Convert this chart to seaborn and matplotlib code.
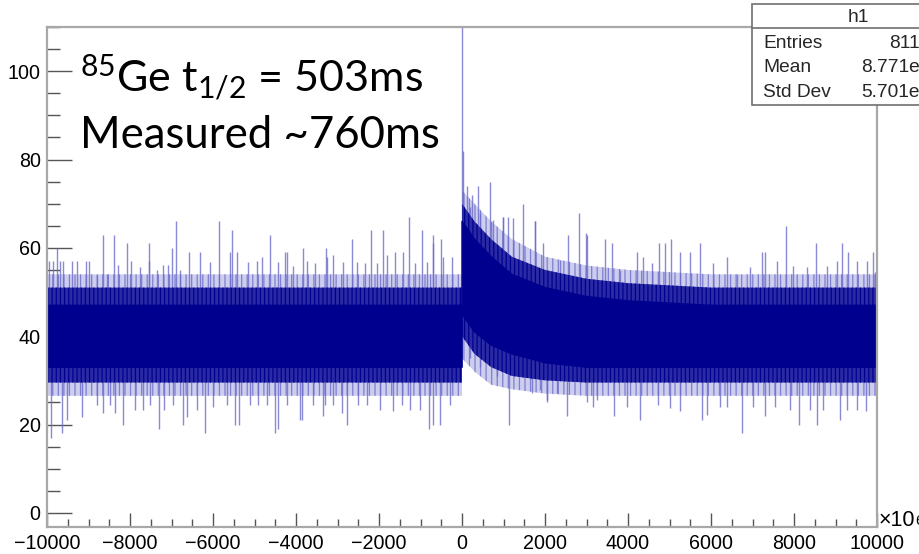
import numpy as np
import pandas as pd
import matplotlib
matplotlib.use("Agg")
import matplotlib.pyplot as plt
from matplotlib.patches import Rectangle
from matplotlib.lines import Line2D
from matplotlib.ticker import MultipleLocator
import seaborn as sns

# ---------------- data ----------------
# envelope of the noisy histogram (x in units of 1e6)
env_x    = [-10000, -5000, -0.01, 0, 300, 700, 1200, 2000, 3000, 4000, 6000, 10000]
core_lo  = [33, 33, 33, 45, 41, 38, 36, 34, 33, 33, 33, 33]
core_hi  = [47, 47, 47, 66, 62, 58, 54, 51, 49, 48, 47, 47]
dark_lo  = [29.5, 29.5, 29.5, 40, 36, 33, 31, 30, 29.5, 29.5, 29.5, 29.5]
dark_hi  = [51, 51, 51, 70, 66, 62, 58, 55, 53, 52, 51, 51]
light_lo = [26.5, 26.5, 26.5, 35, 32, 29, 28, 27, 26.5, 26.5, 26.5, 26.5]
light_hi = [54, 54, 54, 73, 70, 66, 62, 58, 56, 55, 54, 54]

# isolated upward spikes (bin position, bin content)
up_x = [-9770, -9400, -8650, -8390, -8075, -7540, -7000, -6900, -5850, -5540,
        -5430, -4630, -4220, -3830, -3280, -2650, -2200, -1900, -1280, -970,
        -700, -500, 0, 20, 120, 240, 390, 675, 990, 1100,
        1470, 1760, 2560, 2820, 3010, 3450, 4750, 5040, 5740, 7230,
        7810, 8530, 9160, 9300, 9910,
        -9946, -9850, -9688, -9608, -9271, -9063, -8983, -8806, -8549, -8284,
        -7987, -7762, -7545, -7360, -7199, -7079, -6797, -6572, -6315, -6074,
        -5592, -5150, -4949, -4829, -4427, -4266, -4065, -3744, -3543, -3262,
        -3101, -2860, -2538, -2337, -2056, -1815, -1614, -1413, -1132, -851,
        -690, -449, -248,
        193, 434, 755, 996, 1237, 1759, 1960, 2989, 2362, 3607,
        3808, 4210, 4354, 4571, 4892, 5254, 5495, 6057, 6378, 6620,
        6941, 7302, 7583, 7985, 8307, 8789, 9029, 9511, 9752, 9952]
up_y = [60, 57, 63, 63, 61, 61, 60, 66, 66, 64,
        59, 63, 59, 60, 60, 62, 64, 64, 67, 64,
        63, 62, 120, 82, 74, 72, 74, 75, 67, 67,
        70, 66, 63, 68, 63, 62, 61, 62, 61, 59,
        65, 61, 61, 59, 59,
        57, 57, 57, 57, 57, 57, 57, 53.9, 54.1, 56.1,
        57, 55.7, 57, 55, 56.1, 56.1, 55, 59.1, 59.1, 56.9,
        59.1, 56.9, 57, 58, 56.9, 59.1, 55.9, 57, 56.5, 58,
        58.4, 56.9, 56.9, 56.5, 56.5, 58.4, 59.1, 59.1, 56.5, 56.9,
        61, 58, 58,
        69.3, 67.8, 66.3, 67, 66.7, 66, 61, 63.4, 57.2, 61,
        55, 59, 58, 56.5, 61, 59, 59, 56.5, 58, 54,
        55.7, 59, 57, 56, 55.7, 56, 57, 57, 57, 54.6]

# isolated downward spikes
down_x = [-9900, -9640, -8170, -7300, -6720, -6200, -5380, -4500, -4430, -3860,
          -3350, -2770, -1660, -800, -700,
          190, 430, 840, 1130, 2050, 2530, 3660, 4300, 5250, 5780,
          6750, 7300, 8120, 8560, 9110, 9740,
          -9527, -9166, -8645, -8363, -7881, -7680, -7174, -6635, -6394, -5993,
          -5470, -3904, -2899, -1976, -1253, -1012, -530,
          -8806, -8485, -7520, -6957, -5672, -5110, -4909, -4708, -4226, -3583,
          -3302, -3101, -2498, -2297, -1453, -289,
          2056, 3165, 3968, 4732, 5013, 5896, 6218, 6378, 7021, 7544,
          7905, 8387, 8708, 9270, 9511,
          273, 675, 1398, 1679, 1880, 2281, 3004, 3245]
down_y = [17, 18, 20, 19, 20, 18, 20, 18, 19, 21,
          22, 20, 23, 19, 20,
          35, 33, 31, 20, 25, 22, 22, 21, 23, 21,
          18, 22, 20, 20, 21, 23,
          21.0, 21.8, 22.5, 22.5, 23.3, 23.3, 23.3, 21.8, 23.3, 24.0,
          19.9, 21.0, 22.5, 23.3, 23.3, 23.3, 19.9,
          24.5, 24.5, 24.5, 24.5, 24.5, 24.5, 24.5, 24.5, 24.5, 24.5,
          24.5, 24.5, 24.5, 24.5, 24.5, 24.5,
          25.6, 24.0, 24.0, 24.4, 23.7, 22.2, 24.0, 24.0, 24.0, 24.0,
          23.3, 23.3, 23.3, 23.3, 23.3,
          37.3, 35.4, 30.9, 27.1, 27.8, 27.1, 25.2, 25.6]

stats_labels = ["Entries", "Mean", "Std Dev"]
stats_values = ["811046", "8.771e+08", "5.701e+09"]
hist_name = "h1"

# ---------------- style ----------------
sns.set_theme(style="white")
plt.rcParams["font.family"] = ["Liberation Sans", "DejaVu Sans"]
plt.rcParams["mathtext.fontset"] = "custom"
plt.rcParams["mathtext.rm"] = "Lato"
plt.rcParams["mathtext.it"] = "Lato"
plt.rcParams["mathtext.default"] = "rm"
plt.rcParams["hatch.linewidth"] = 0.9

W, H = 919, 554
fig = plt.figure(figsize=(W / 100, H / 100), dpi=100)
fig.patch.set_facecolor("white")

def fx(px):
    return px / W

def fy(py):
    return 1 - py / H

ax_l, ax_r, ax_t, ax_b = 47, 877, 27, 527
ax = fig.add_axes([fx(ax_l), fy(ax_b), fx(ax_r) - fx(ax_l), fy(ax_t) - fy(ax_b)])
ax.set_facecolor("white")

DARK = "#00008f"
MID = "#2a2aa4"
LIGHT = "#cdcdee"
SPIKE = "#6c6cca"

df = pd.DataFrame({"x": env_x, "core_lo": core_lo, "core_hi": core_hi,
                   "dark_lo": dark_lo, "dark_hi": dark_hi,
                   "light_lo": light_lo, "light_hi": light_hi})

# light spiky region (vertical-line texture like the overlapping bins)
ax.fill_between(df["x"], df["light_lo"], df["light_hi"], facecolor=LIGHT,
                edgecolor="#7e7ed2", hatch="|||", lw=0, zorder=1)
# spikes
ax.vlines(up_x, 40, up_y, color=SPIKE, lw=1.0, alpha=0.8, zorder=1.5)
ax.vlines(down_x, down_y, 40, color=SPIKE, lw=1.0, alpha=0.8, zorder=1.5)
# medium dense region
ax.fill_between(df["x"], df["dark_lo"], df["dark_hi"], facecolor=MID,
                edgecolor=DARK, hatch="||||", lw=0, zorder=2)
# dense core
ax.fill_between(df["x"], df["core_lo"], df["core_hi"], color=DARK, lw=0, zorder=3)
sns.lineplot(data=df, x="x", y="core_hi", color=DARK, lw=1, ax=ax, zorder=3, legend=False)
sns.lineplot(data=df, x="x", y="core_lo", color=DARK, lw=1, ax=ax, zorder=3, legend=False)

ax.set_xlim(-10000, 10000)
ax.set_ylim(-3.2, 110)
ax.set_xlabel("")
ax.set_ylabel("")

ax.xaxis.set_minor_locator(MultipleLocator(500))
ax.yaxis.set_minor_locator(MultipleLocator(5))
xt = np.arange(-10000, 10001, 2000)
ax.set_xticks(xt)
ax.set_xticklabels([f"\u2212{abs(v)}" if v < 0 else f"{v}" for v in xt])
ax.set_yticks(np.arange(0, 101, 20))

tick_col = "#555555"
ax.tick_params(axis="y", which="major", direction="in", length=25 * 0.72, width=1.0,
               color=tick_col, labelsize=14.2, pad=4.5, left=True, labelcolor="black")
ax.tick_params(axis="y", which="minor", direction="in", length=12.5 * 0.72, width=1.0,
               color=tick_col, left=True)
ax.tick_params(axis="x", which="major", direction="in", length=14 * 0.72, width=1.0,
               color=tick_col, labelsize=14.2, pad=5, bottom=True, labelcolor="black")
ax.tick_params(axis="x", which="minor", direction="in", length=8 * 0.72, width=1.0,
               color=tick_col, bottom=True)
for s in ax.spines.values():
    s.set_visible(True)
    s.set_color("#a8a8a8")
    s.set_linewidth(1.6)
    s.set_zorder(6)
ax.grid(False)
for t in ax.get_xticklines() + ax.get_yticklines():
    t.set_zorder(7)

# annotation text
fig.text(fx(80), fy(92), r"$^{85}$Ge t$_{1/2}$ = 503ms", fontsize=31, family="Lato",
         ha="left", va="baseline", color="black")
fig.text(fx(80), fy(148), "Measured ~760ms", fontsize=31.5, family="Lato",
         ha="left", va="baseline", color="black")

# exponent label
fig.text(fx(879), fy(521), "\u00d710", fontsize=15.5, ha="left", va="center", color="black")
fig.text(fx(915), fy(528), "6", fontsize=11, ha="left", va="bottom", color="black")

# stats box
bx0, by0, bx1, by1 = 752, 4, 964, 105
fig.add_artist(Rectangle((fx(bx0), fy(by1)), fx(bx1) - fx(bx0), fy(by0) - fy(by1),
                         transform=fig.transFigure, facecolor="white",
                         edgecolor="#707070", lw=1.2, zorder=10))
fig.add_artist(Line2D([fx(bx0), fx(bx1)], [fy(28), fy(28)], transform=fig.transFigure,
                      color="#707070", lw=1.2, zorder=11))
fig.text(fx(858), fy(17), hist_name, fontsize=13.8, ha="center", va="center", zorder=12)
rows_y = [43, 68, 93]
for lab, val, yy in zip(stats_labels, stats_values, rows_y):
    fig.text(fx(763), fy(yy), lab, fontsize=13.8, ha="left", va="center", zorder=12)
    fig.text(fx(952), fy(yy), val, fontsize=13.8, ha="right", va="center", zorder=12)

fig.savefig("out.png", dpi=100)
